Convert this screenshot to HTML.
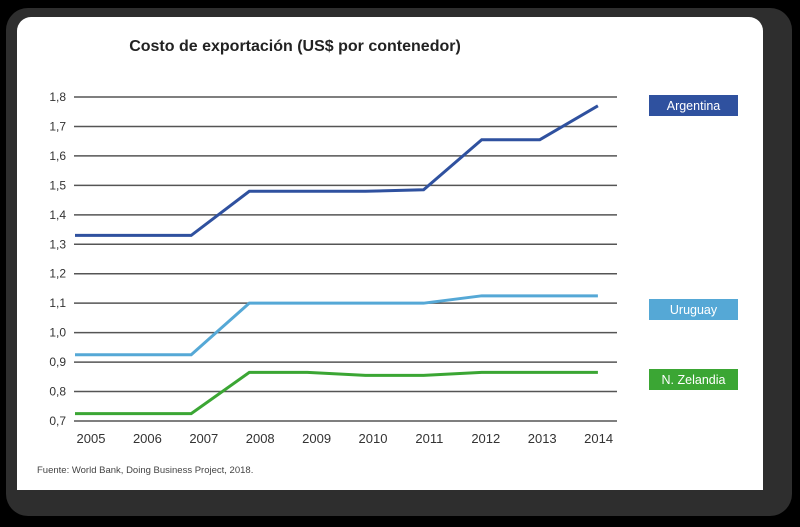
<!DOCTYPE html>
<html><head><meta charset="utf-8"><style>
body{margin:0;width:800px;height:527px;background:#000;overflow:hidden}
svg{display:block;font-family:"Liberation Sans",sans-serif}
</style></head><body>
<svg width="800" height="527">
<rect x="6" y="8" width="786" height="508" rx="22" fill="#2e2e2e"/>
<rect x="17" y="17" width="746" height="473" rx="14" fill="#fff"/>
<rect x="17" y="40" width="746" height="450" fill="#fff"/>
<text x="295" y="51" text-anchor="middle" font-size="16" font-weight="bold" fill="#222">Costo de exportación (US$ por contenedor)</text>
<g id="grid"></g><g id="lines"></g><g id="legend"></g>
<text x="37" y="473" font-size="9.5" fill="#444">Fuente: World Bank, Doing Business Project, 2018.</text>
</svg>
<script>
const years=["2005","2006","2007","2008","2009","2010","2011","2012","2013","2014"];
const ticks=[0.7,0.8,0.9,1.0,1.1,1.2,1.3,1.4,1.5,1.6,1.7,1.8];
const argentina=[1.33,1.33,1.33,1.48,1.48,1.48,1.485,1.655,1.655,1.77];
const uruguay=[0.925,0.925,0.925,1.10,1.10,1.10,1.10,1.125,1.125,1.125];
const nzelandia=[0.725,0.725,0.725,0.865,0.865,0.855,0.855,0.865,0.865,0.865];
const NS="http://www.w3.org/2000/svg";
const y=v=>421-(v-0.7)*(324/1.1);
const x=i=>75+i*58.1;
const lx=i=>91+i*56.4;
function el(t,a,p){const e=document.createElementNS(NS,t);for(const k in a)e.setAttribute(k,a[k]);p.appendChild(e);return e;}
const g=document.getElementById('grid');
ticks.forEach(t=>{
 const l=el('line',{x1:74,x2:617,y1:y(t),y2:y(t),stroke:'#555','stroke-width':1.5},g);
 
 
 const tx=el('text',{x:66,y:y(t)+4,'text-anchor':'end','font-size':12,fill:'#333'},g);
 tx.textContent=t.toFixed(1).replace('.',',');
 
 
});
years.forEach((yr,i)=>{
 const tx=el('text',{x:lx(i),y:443,'text-anchor':'middle','font-size':13,fill:'#333'},g);
 tx.textContent=yr;
 
 
});
const L=document.getElementById('lines');
[[argentina,'#2f519f','argentina-line'],[uruguay,'#55a8d6','uruguay-line'],[nzelandia,'#3ba634','nzelandia-line']].forEach(([d,c,n])=>{
 const p=el('polyline',{points:d.map((v,i)=>x(i)+','+y(v)).join(' '),fill:'none',stroke:c,'stroke-width':3},L);
 
 
});
const LG=document.getElementById('legend');
[['Argentina','#2f519f',95],['Uruguay','#55a8d6',299],['N. Zelandia','#3ba634',369]].forEach(([t,c,yy])=>{
 const r=el('rect',{x:649,y:yy,width:89,height:21,fill:c},LG);
 
 
 const tx=el('text',{x:693.5,y:yy+15,'text-anchor':'middle','font-size':12.5,fill:'#fff'},LG);
 tx.textContent=t;
 
 
});
</script>
</body></html>
